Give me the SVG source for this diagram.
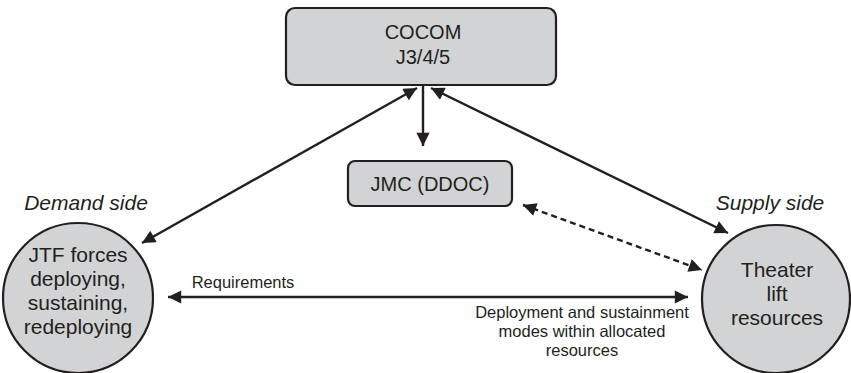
<svg xmlns="http://www.w3.org/2000/svg" width="851" height="373" viewBox="0 0 851 373">
<defs>
<style>
.node{fill:#d1d3d4;stroke:#231f20;stroke-width:2.2}
.t{font-family:"Liberation Sans",Arial,sans-serif;fill:#231f20;text-anchor:middle}
.big{font-size:20px}
.circ{font-size:21px}
.it{font-size:21px;font-style:italic}
.sm{font-size:16.5px}
.c{stroke:#231f20;stroke-width:2.4;fill:none}
.d{stroke-dasharray:6 4}
</style>
<marker id="ah" viewBox="0 0 10 10" refX="10" refY="5" markerWidth="6" markerHeight="5.5" markerUnits="strokeWidth" orient="auto-start-reverse">
<path d="M0,0 L10,5 L0,10 z" fill="#231f20"/>
</marker>
</defs>
<rect width="851" height="373" fill="#ffffff"/>
<g id="connectors">
<line class="c" x1="423" y1="86" x2="423" y2="146" marker-end="url(#ah)"/>
<line class="c" x1="142" y1="243" x2="417" y2="88" marker-start="url(#ah)" marker-end="url(#ah)"/>
<line class="c" x1="431" y1="88" x2="728" y2="233" marker-start="url(#ah)" marker-end="url(#ah)"/>
<line class="c d" x1="523" y1="205" x2="702" y2="270" marker-start="url(#ah)" marker-end="url(#ah)"/>
<line class="c" x1="168" y1="297" x2="688" y2="297" marker-start="url(#ah)" marker-end="url(#ah)"/>
<text class="t sm" x="243" y="288">Requirements</text>
<text class="t sm" x="582" y="318">Deployment and sustainment</text>
<text class="t sm" x="582" y="337">modes within allocated</text>
<text class="t sm" x="582" y="356">resources</text>
</g>
<g id="cocom">
<rect class="node" x="286" y="8" width="270" height="77" rx="9"/>
<text class="t big" x="423" y="39">COCOM</text>
<text class="t big" x="423" y="64">J3/4/5</text>
</g>
<g id="jmc">
<rect class="node" x="348" y="161" width="164" height="45" rx="7"/>
<text class="t big" x="430" y="191">JMC (DDOC)</text>
</g>
<g id="demand">
<text class="t it" x="86" y="210">Demand side</text>
<circle class="node" cx="78" cy="298" r="75"/>
<text class="t circ" x="78" y="262">JTF forces</text>
<text class="t circ" x="78" y="286">deploying,</text>
<text class="t circ" x="78" y="310">sustaining,</text>
<text class="t circ" x="78" y="334">redeploying</text>
</g>
<g id="supply">
<text class="t it" x="770" y="210">Supply side</text>
<circle class="node" cx="776" cy="299" r="74"/>
<text class="t circ" x="777" y="277">Theater</text>
<text class="t circ" x="777" y="301">lift</text>
<text class="t circ" x="777" y="325">resources</text>
</g>
</svg>
